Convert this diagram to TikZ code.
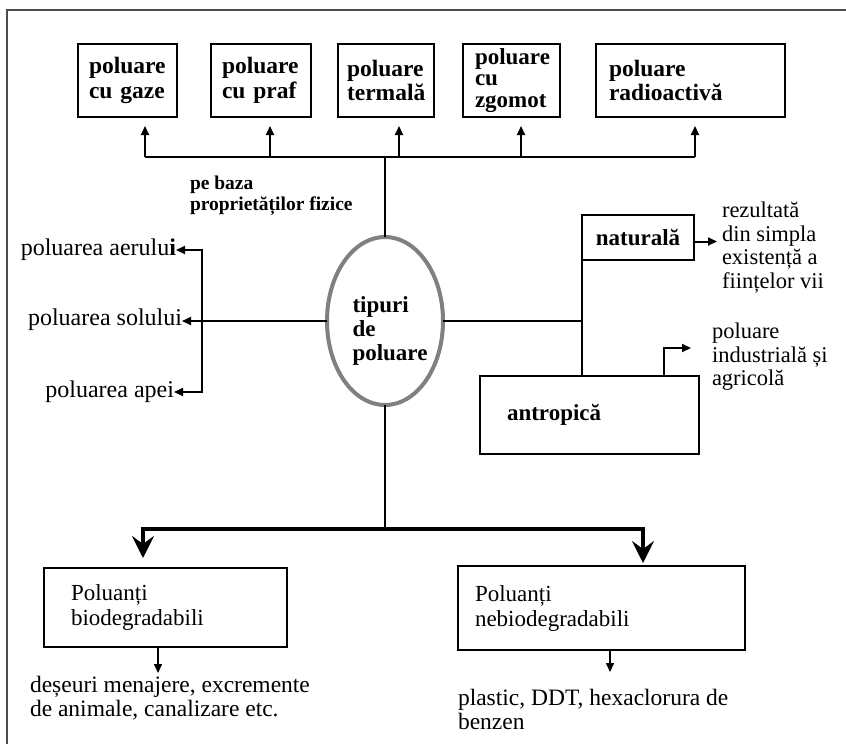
\documentclass[tikz,border=0pt]{standalone}
\usepackage{fontspec}
\setmainfont{Liberation Serif}
\usetikzlibrary{arrows.meta,shapes.geometric,calc}
\begin{document}
\begin{tikzpicture}[x=1pt,y=-1pt,
  every node/.style={inner sep=0pt,outer sep=0pt},
  ln/.style={line width=2pt,black},
  >={Triangle[length=9pt,width=8pt]},
  bigtip/.style={line width=3.2pt,-{Stealth[length=22pt,width=22pt,inset=8pt]}},
  tb/.style={draw,line width=2.5pt,anchor=north west,align=left,minimum height=73pt,font=\bfseries\fontsize{23.5}{24.5}\selectfont},
  rb/.style={draw,line width=2.5pt,anchor=north west,align=left,font=\bfseries\fontsize{23}{24}\selectfont},
  pbox/.style={draw,line width=2.5pt,anchor=north west,align=left,font=\fontsize{23}{25}\selectfont},
  lt/.style={font=\fontsize{24}{24}\selectfont},
  rt/.style={anchor=north west,align=left,font=\fontsize{22.5}{23.5}\selectfont},
]
\useasboundingbox (0,0) rectangle (846,744);
% frame
\draw[line width=2.5pt,black!70] (846,10) -- (7,10) -- (7,744);

% top boxes
\node[tb,minimum width=99pt,text width=77pt] (b1) at (78,44) {poluare\\cu gaze};
\node[tb,minimum width=100pt,text width=78pt] (b2) at (211,44) {poluare\\cu praf};
\node[tb,minimum width=96pt,text width=78pt] (b3) at (338,44) {poluare\\termală};
\node[tb,minimum width=97pt,text width=73pt,font=\bfseries\fontsize{23}{21.5}\selectfont] (b4) at (463,44) {poluare\\cu\\zgomot};
\node[tb,minimum width=189pt,text width=163pt] (b5) at (596,44) {poluare\\radioactivă};

% top bus
\coordinate (t1) at (145,157);
\coordinate (t2) at (270,157);
\coordinate (t3) at (399,157);
\coordinate (t4) at (521,157);
\coordinate (t5) at (695,157);
\coordinate (tc) at (385,157);
\draw[ln] (t1) -- (t5);
\foreach \i in {1,...,5}{
  \draw[ln,->] (t\i) -- ($(t\i |- b\i.south)+(0,9)$);
}
\node[anchor=north west,align=left,font=\bfseries\fontsize{19.5}{20.5}\selectfont] (pb) at (190,176) {pe baza\\proprietăților fizice};

% ellipse
\node[ellipse,draw=black!50,line width=4pt,minimum width=116pt,minimum height=168pt] (e) at (385,321) {};
\node[align=left,font=\bfseries\fontsize{23}{24}\selectfont] (et) at (390,331) {tipuri\\de\\poluare};
\draw[ln] (e.north) -- (tc);

% left side
\node[lt,anchor=east] (aer) at (176,250) {poluarea aerulu\textbf{i}};
\node[lt,anchor=east] (sol) at (182,320) {poluarea solului};
\node[lt,anchor=east] (apa) at (174,392) {poluarea apei};
\coordinate (lj) at (202,320);
\draw[ln,->] (e.west) -- (e.west -| sol.east);
\draw[ln,<->] (aer.east) -- (aer.east -| lj) -- (apa.east -| lj) -- (apa.east);

% right side
\node[rb,minimum width=112pt,minimum height=45pt] (nat) at (582,215) {\raisebox{-5pt}{naturală}};
\node[rb,minimum width=219pt,minimum height=78pt,text width=165pt] (ant) at (480,376) {antropică};
\draw[ln] (e.east) -- (e.east -| nat.west);
\draw[ln] (nat.south west) -- (nat.south west |- ant.north);
\draw[ln,->] ($(nat.east)+(0,4)$) -- ++(23,0);
\node[rt,font=\fontsize{22.5}{23.5}\selectfont] (rez) at (722,202) {rezultată\\din simpla\\existență a\\ființelor vii};
\coordinate (ap) at (664,376);
\draw[ln,->] (ap) -- ++(0,-28) -- ++(27,0);
\node[rt] (ind) at (712,323) {poluare\\industrială și\\agricolă};

% bottom
\coordinate (bj) at (385,529);
\coordinate (bl) at (143,529);
\coordinate (br) at (643,529);
\draw[ln] (e.south) -- (bj);
\node[pbox,minimum width=243pt,minimum height=79pt,text width=189pt] (bio) at (44,568) {Poluanți\\biodegradabili};
\node[pbox,minimum width=287pt,minimum height=84pt,text width=253pt] (nbio) at (458,566) {Poluanți\\nebiodegradabili};
\draw[bigtip] (bj) -- (bl) -- ($(bl |- bio.north)+(0,-10)$);
\draw[bigtip] (bj) -- (br) -- ($(br |- nbio.north)+(0,-3)$);
\coordinate (a1) at (158,0);
\coordinate (a2) at (610,0);
\draw[line width=1.6pt,->] (bio.south -| a1) -- ++(0,26);
\draw[line width=1.6pt,->] (nbio.south -| a2) -- ++(0,22);
\node[rt,font=\fontsize{23.5}{24}\selectfont] (des) at (30,676) {deșeuri menajere, excremente\\de animale, canalizare etc.};
\node[rt,font=\fontsize{23.5}{24.5}\selectfont] (pl) at (458,689) {plastic, DDT, hexaclorura de\\benzen};
\end{tikzpicture}
\end{document}
